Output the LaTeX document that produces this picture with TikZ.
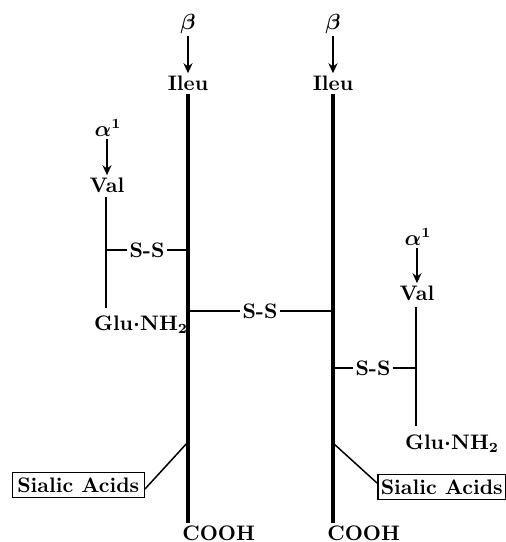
\documentclass[tikz,border=0pt]{standalone}
\usepackage{amsmath}
\usetikzlibrary{arrows.meta}
\begin{document}
\begin{tikzpicture}[x=0.5pt,y=-0.5pt,
  lbl/.style={font=\fontsize{10.5}{12}\selectfont\bfseries\boldmath, inner sep=1pt},
  chain/.style={line width=2.2pt},
  thin/.style={line width=0.75pt},
  arr/.style={line width=0.9pt,-{Stealth[length=5pt,width=4.5pt]}},
  sbox/.style={draw, line width=0.75pt, font=\fontsize{10.5}{12}\selectfont\bfseries, inner xsep=2.5pt, inner ysep=2.5pt}]
\useasboundingbox (0,0) rectangle (505,542);
% top labels
\node[lbl] (b1) at (188,24) {$\boldsymbol{\beta}$};
\node[lbl] (b2) at (333,24) {$\boldsymbol{\beta}$};
\node[lbl] (i1) at (188,83) {Ileu};
\node[lbl] (i2) at (333,83) {Ileu};
\draw[arr] (b1) -- (i1);
\draw[arr] (b2) -- (i2);
% chains
\coordinate (c1t) at (188,94);
\coordinate (c1b) at (188,523);
\coordinate (c2t) at (333,94);
\coordinate (c2b) at (333,523);
\draw[chain] (c1t) -- (c1b);
\draw[chain] (c2t) -- (c2b);
% left alpha
\node[lbl] (a1) at (108,128) {$\boldsymbol{\alpha}^{1}$};
\node[lbl] (v1) at (107,185) {Val};
\draw[arr] (a1.south -| v1) -- (v1.north);
\coordinate (l1t) at (106,197);
\coordinate (l1b) at (106,308);
\draw[thin] (l1t) -- (l1b);
\node[lbl] (g1) at (141,325) {Glu$\cdot$NH$_2$};
\coordinate (s1a) at (106,250);
\coordinate (s1b) at (188,250);
\node[lbl,fill=white] (ss1) at (147,250) {S-S};
\draw[thin] (s1a) -- (ss1) -- (s1b);
% middle
\coordinate (m1) at (188,311);
\coordinate (m2) at (333,311);
\node[lbl,fill=white] (ssm) at (260,311) {S-S};
\draw[thin] (m1) -- (ssm) -- (m2);
% right alpha
\node[lbl] (a2) at (418,237) {$\boldsymbol{\alpha}^{1}$};
\node[lbl] (v2) at (417,293) {Val};
\draw[arr] (a2.south -| v2) -- (v2.north);
\coordinate (l2t) at (416,307);
\coordinate (l2b) at (416,426);
\draw[thin] (l2t) -- (l2b);
\node[lbl] (g2) at (452,444) {Glu$\cdot$NH$_2$};
\coordinate (s2a) at (333,368);
\coordinate (s2b) at (416,368);
\node[lbl,fill=white] (ss2) at (373,368) {S-S};
\draw[thin] (s2a) -- (ss2) -- (s2b);
% sialic acids
\node[sbox, anchor=east] (sa1) at (145,485) {Sialic Acids};
\node[sbox, anchor=west, inner xsep=1.5pt] (sa2) at (377,487) {Sialic Acids};
\coordinate (k1) at (188,442);
\coordinate (k2) at (333,443);
\draw[thin] (k1) -- ([yshift=-2pt]sa1.east);
\draw[thin] (k2) -- ([yshift=2pt]sa2.west);
% COOH
\node[lbl, anchor=north west] (co1) at (180,523) {COOH};
\node[lbl, anchor=north west] (co2) at (325,523) {COOH};
\end{tikzpicture}
\end{document}
